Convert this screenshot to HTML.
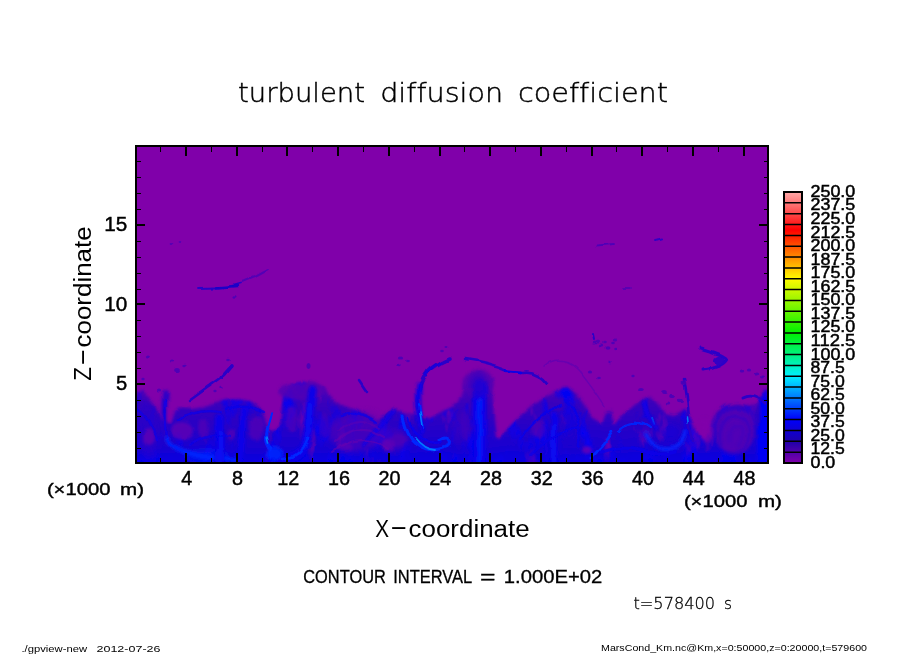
<!DOCTYPE html>
<html lang="en"><head><meta charset="utf-8"><title>turbulent diffusion coefficient</title>
<style>html,body{margin:0;padding:0;background:#fff;}body{width:904px;height:654px;overflow:hidden;}svg{display:block;}text{font-family:"Liberation Sans",sans-serif;fill:#000;}.thin{font-family:"DejaVu Sans Light","Liberation Sans",sans-serif;}</style></head><body>
<svg width="904" height="654" viewBox="0 0 904 654">
<defs>
<linearGradient id="cb" x1="0" y1="1" x2="0" y2="0">
<stop offset="0" stop-color="rgb(128,0,170)"/>
<stop offset="0.08" stop-color="rgb(30,0,170)"/>
<stop offset="0.16" stop-color="rgb(0,0,250)"/>
<stop offset="0.32" stop-color="rgb(0,240,255)"/>
<stop offset="0.48" stop-color="rgb(0,240,0)"/>
<stop offset="0.68" stop-color="rgb(255,250,0)"/>
<stop offset="0.86" stop-color="rgb(255,0,0)"/>
<stop offset="1" stop-color="rgb(255,170,170)"/>
</linearGradient>
<clipPath id="fc"><rect x="137" y="147" width="630" height="315"/></clipPath>
<filter id="b1" filterUnits="userSpaceOnUse" x="120" y="130" width="670" height="350"><feGaussianBlur stdDeviation="0.7"/></filter>
<filter id="b2" filterUnits="userSpaceOnUse" x="120" y="130" width="670" height="350"><feGaussianBlur stdDeviation="1.6"/></filter>
<filter id="b3" filterUnits="userSpaceOnUse" x="120" y="130" width="670" height="350"><feGaussianBlur stdDeviation="3"/></filter>
<filter id="b4" filterUnits="userSpaceOnUse" x="120" y="130" width="670" height="350"><feGaussianBlur stdDeviation="5"/></filter>
<filter id="tex" x="0" y="0" width="100%" height="100%" color-interpolation-filters="sRGB"><feGaussianBlur in="SourceGraphic" stdDeviation="1.6" result="base"/><feTurbulence type="fractalNoise" baseFrequency="0.05 0.022" numOctaves="4" seed="7" result="n"/><feColorMatrix in="n" type="matrix" values="0 0 0 0 0.02  0 0 0 0 0  0 0 0 0 0.95  4 0 0 0 -2.0" result="w1"/><feColorMatrix in="n" type="matrix" values="0 0 0 0 0.42  0 0 0 0 0  0 0 0 0 0.70  0 -4.5 0 0 1.75" result="w2"/><feComposite in="w2" in2="base" operator="in" result="w2c"/><feComposite in="w1" in2="base" operator="in" result="w1c"/><feMerge><feMergeNode in="base"/><feMergeNode in="w2c"/><feMergeNode in="w1c"/></feMerge></filter>
<filter id="warp" x="-5%" y="-5%" width="110%" height="110%"><feTurbulence type="fractalNoise" baseFrequency="0.03 0.03" numOctaves="3" seed="11" result="t"/><feDisplacementMap in="SourceGraphic" in2="t" scale="7" xChannelSelector="R" yChannelSelector="G"/></filter>
<linearGradient id="hz" gradientUnits="userSpaceOnUse" x1="0" y1="380" x2="0" y2="462"><stop offset="0" stop-color="#5400b4"/><stop offset="0.3" stop-color="#3800bc"/><stop offset="0.65" stop-color="#2200ca"/><stop offset="1" stop-color="#1200d6"/></linearGradient>
</defs>
<rect width="904" height="654" fill="#fff"/>
<g id="field">
<rect x="136" y="146" width="632" height="317" fill="#8000aa"/>
<g clip-path="url(#fc)"><g filter="url(#warp)">
<polygon filter="url(#tex)" fill="url(#hz)" points="130,392 137,392 142,389 150,397 157,408 162,420 172,424 176,412 180,408 190,409 200,408 210,405 220,402 230,400 240,400 250,402 258,407 263,416 266,426 270,432 276,432 281,426 283,408 285,395 288,388 295,383 305,381 315,382 325,388 331,398 340,404 350,408 360,412 370,416 376,420 385,415 395,408 405,412 415,412 420,415 430,418 440,412 450,408 458,402 463,388 470,377 478,371 486,376 491,384 493,398 494,418 496,438 500,440 507,429 520,416 531,406 545,399 558,393 566,388 577,395 584,405 591,416 599,421 602,422 606,411 611,410 616,424 624,415 636,405 644,399 650,396 657,403 665,414 675,416 685,410 691,420 697,434 705,440 712,425 718,412 727,406 737,404 747,406 755,404 760,398 767,390 775,390 775,470 130,470"/>
<rect x="130" y="453" width="645" height="14" fill="#0600e8" filter="url(#b3)" opacity="0.4"/>
<ellipse cx="303" cy="391" rx="24" ry="9" fill="#5200b4" filter="url(#b2)" opacity="0.85"/>
<ellipse cx="478" cy="384" rx="16" ry="13" fill="#5200b4" filter="url(#b2)" opacity="0.8"/>
<ellipse cx="148" cy="430" rx="10" ry="30" fill="#2a00c8" filter="url(#b3)" opacity="0.8"/>
<ellipse cx="148" cy="438" rx="6" ry="8" fill="#6a00b0" filter="url(#b2)" opacity="0.7"/>
<path d="M166,393 C164,410 165,430 167,442" fill="none" stroke="#2a00c8" stroke-width="5.5" stroke-linecap="round" stroke-linejoin="round" filter="url(#b2)" opacity="1"/>
<path d="M166,400 C165,415 166,432 168,444" fill="none" stroke="#0a00e8" stroke-width="2.2" stroke-linecap="round" stroke-linejoin="round" filter="url(#b1)" opacity="0.8"/>
<path d="M166,438 C172,450 185,452 200,456 C215,459 225,460 235,460" fill="none" stroke="#0028ff" stroke-width="4" stroke-linecap="round" stroke-linejoin="round" filter="url(#b2)" opacity="1"/>
<path d="M189,401 L200,393 L214,383 L225,375 L232,366" fill="none" stroke="#2a00c8" stroke-width="2.6" stroke-linecap="round" stroke-linejoin="round" filter="url(#b1)" opacity="1"/>
<path d="M222,377 L232,366" fill="none" stroke="#2a00c8" stroke-width="3.6" stroke-linecap="round" stroke-linejoin="round" filter="url(#b1)" opacity="1"/>
<ellipse cx="205" cy="456" rx="22" ry="6" fill="#0028ff" filter="url(#b3)" opacity="0.6"/>
<path d="M218,418 L219,462" fill="none" stroke="#0a00e8" stroke-width="8" stroke-linecap="round" stroke-linejoin="round" filter="url(#b2)" opacity="1"/>
<path d="M219,430 L219,462" fill="none" stroke="#0028ff" stroke-width="3" stroke-linecap="round" stroke-linejoin="round" filter="url(#b2)" opacity="0.7"/>
<path d="M243,410 C244,430 243,445 240,458" fill="none" stroke="#0a00e8" stroke-width="7" stroke-linecap="round" stroke-linejoin="round" filter="url(#b2)" opacity="1"/>
<ellipse cx="203" cy="428" rx="5" ry="10" fill="#6000b0" filter="url(#b2)" opacity="0.6"/>
<ellipse cx="231" cy="434" rx="5" ry="6" fill="#6000b0" filter="url(#b2)" opacity="0.6"/>
<ellipse cx="257" cy="428" rx="7" ry="12" fill="#6000b0" filter="url(#b2)" opacity="0.6"/>
<ellipse cx="183" cy="431" rx="11" ry="9" fill="#6a00b0" filter="url(#b2)" opacity="0.7"/>
<ellipse cx="178" cy="369" rx="2.8" ry="2" fill="#4a00b8" filter="url(#b1)" opacity="0.9"/>
<ellipse cx="172" cy="360" rx="2.1" ry="1.5" fill="#4a00b8" filter="url(#b1)" opacity="0.9"/>
<ellipse cx="149" cy="356" rx="2.1" ry="1.5" fill="#4a00b8" filter="url(#b1)" opacity="0.9"/>
<ellipse cx="184" cy="364" rx="1.68" ry="1.2" fill="#4a00b8" filter="url(#b1)" opacity="0.9"/>
<ellipse cx="228" cy="361" rx="1.82" ry="1.3" fill="#4a00b8" filter="url(#b1)" opacity="0.9"/>
<ellipse cx="160" cy="390" rx="2.1" ry="1.5" fill="#4a00b8" filter="url(#b1)" opacity="0.9"/>
<ellipse cx="142" cy="378" rx="1.68" ry="1.2" fill="#4a00b8" filter="url(#b1)" opacity="0.9"/>
<ellipse cx="215" cy="392" rx="1.68" ry="1.2" fill="#4a00b8" filter="url(#b1)" opacity="0.9"/>
<ellipse cx="222" cy="388" rx="1.68" ry="1.2" fill="#4a00b8" filter="url(#b1)" opacity="0.9"/>
<ellipse cx="358" cy="432" rx="30" ry="20" fill="#5c00b2" filter="url(#b3)" opacity="0.55"/>
<ellipse cx="396" cy="440" rx="12" ry="12" fill="#5c00b2" filter="url(#b3)" opacity="0.45"/>
<path d="M313,390 C311,410 309,430 305,446 C300,455 292,458 283,460" fill="none" stroke="#0a00e8" stroke-width="9" stroke-linecap="round" stroke-linejoin="round" filter="url(#b2)" opacity="1"/>
<path d="M311,405 C310,420 308,435 304,447" fill="none" stroke="#0028ff" stroke-width="3" stroke-linecap="round" stroke-linejoin="round" filter="url(#b2)" opacity="0.6"/>
<path d="M308,436 C303,452 295,457 285,459" fill="none" stroke="#0028ff" stroke-width="2.5" stroke-linecap="round" stroke-linejoin="round" filter="url(#b1)" opacity="1"/>
<path d="M271.3,415 C268,425 266.5,432 266.6,438 C267,443 269,446 272,450" fill="none" stroke="#0028ff" stroke-width="3.2" stroke-linecap="round" stroke-linejoin="round" filter="url(#b1)" opacity="1"/>
<ellipse cx="276" cy="454" rx="9" ry="7" fill="#0028ff" filter="url(#b2)" opacity="0.85"/>
<path d="M267,437 L268.5,443" fill="none" stroke="#0078ff" stroke-width="1.6" stroke-linecap="round" stroke-linejoin="round" filter="url(#b1)" opacity="1"/>
<path d="M395,410 C385,420 375,432 364,446" fill="none" stroke="#0a00e8" stroke-width="3.5" stroke-linecap="round" stroke-linejoin="round" filter="url(#b2)" opacity="1"/>
<path d="M360,379 L364,385 L368,391" fill="none" stroke="#2a00c8" stroke-width="2.6" stroke-linecap="round" stroke-linejoin="round" filter="url(#b1)" opacity="1"/>
<ellipse cx="310" cy="366" rx="2.5" ry="3" fill="#4a00b8" filter="url(#b1)" opacity="0.9"/>
<ellipse cx="292" cy="420" rx="6" ry="13" fill="#6000b0" filter="url(#b2)" opacity="0.55"/>
<ellipse cx="324" cy="425" rx="5" ry="12" fill="#5000b4" filter="url(#b2)" opacity="0.5"/>
<path d="M335,442 C350,427 370,427 386,437" fill="none" stroke="#6800b0" stroke-width="2.2" stroke-linecap="round" stroke-linejoin="round" filter="url(#b1)" opacity="0.55"/>
<path d="M333,452 C350,438 372,438 390,449" fill="none" stroke="#6800b0" stroke-width="2.2" stroke-linecap="round" stroke-linejoin="round" filter="url(#b1)" opacity="0.55"/>
<path d="M338,431 C352,419 368,420 380,428" fill="none" stroke="#6000b2" stroke-width="2" stroke-linecap="round" stroke-linejoin="round" filter="url(#b1)" opacity="0.5"/>
<ellipse cx="389" cy="445" rx="6" ry="6" fill="#7000ae" filter="url(#b2)" opacity="0.7"/>
<ellipse cx="345" cy="448" rx="8" ry="4" fill="#7000ae" filter="url(#b2)" opacity="0.5"/>
<path d="M449,358 C440,362 433,366 427,372 C420,381 417,390 417,400 C418,410 420,418 422,426" fill="none" stroke="#2a00c8" stroke-width="3.6" stroke-linecap="round" stroke-linejoin="round" filter="url(#b1)" opacity="1"/>
<path d="M440,362 C433,366 428,371 424,377" fill="none" stroke="#0a00e8" stroke-width="2" stroke-linecap="round" stroke-linejoin="round" filter="url(#b1)" opacity="0.8"/>
<path d="M418,386 C417,398 418,410 420,420 L422,430" fill="none" stroke="#0a00e8" stroke-width="5" stroke-linecap="round" stroke-linejoin="round" filter="url(#b2)" opacity="1"/>
<path d="M419,402 L421,415 L423,427" fill="none" stroke="#0028ff" stroke-width="2" stroke-linecap="round" stroke-linejoin="round" filter="url(#b1)" opacity="1"/>
<path d="M403,414 C405,430 410,440 418,445 C428,453 440,452 450,446 C452,440 446,437 440,441" fill="none" stroke="#0028ff" stroke-width="3" stroke-linecap="round" stroke-linejoin="round" filter="url(#b1)" opacity="1"/>
<path d="M409,416 C411,428 417,437 426,441 C432,444 438,444 442,443" fill="none" stroke="#0a00e8" stroke-width="2.5" stroke-linecap="round" stroke-linejoin="round" filter="url(#b1)" opacity="1"/>
<path d="M415,438 C422,447 430,451 436,451" fill="none" stroke="#0078ff" stroke-width="1.8" stroke-linecap="round" stroke-linejoin="round" filter="url(#b1)" opacity="1"/>
<path d="M420,410 L422,424" fill="none" stroke="#0078ff" stroke-width="1.5" stroke-linecap="round" stroke-linejoin="round" filter="url(#b1)" opacity="1"/>
<path d="M480,388 L479,465" fill="none" stroke="#0a00e8" stroke-width="13" stroke-linecap="round" stroke-linejoin="round" filter="url(#b2)" opacity="1"/>
<path d="M480,400 L479,465" fill="none" stroke="#0028ff" stroke-width="5" stroke-linecap="round" stroke-linejoin="round" filter="url(#b2)" opacity="0.75"/>
<path d="M465,360 C480,362 495,366 507,371 L524,372 C535,370 545,378 549,384" fill="none" stroke="#2a00c8" stroke-width="2.6" stroke-linecap="round" stroke-linejoin="round" filter="url(#b1)" opacity="1"/>
<path d="M506,370.5 L522,372" fill="none" stroke="#0a00e8" stroke-width="2.4" stroke-linecap="round" stroke-linejoin="round" filter="url(#b1)" opacity="1"/>
<ellipse cx="478" cy="386" rx="9" ry="12" fill="#2a00c8" filter="url(#b3)" opacity="0.7"/>
<ellipse cx="402" cy="358" rx="2.1" ry="1.5" fill="#4a00b8" filter="url(#b1)" opacity="0.9"/>
<ellipse cx="408" cy="362" rx="1.82" ry="1.3" fill="#4a00b8" filter="url(#b1)" opacity="0.9"/>
<ellipse cx="399" cy="365" rx="1.68" ry="1.2" fill="#4a00b8" filter="url(#b1)" opacity="0.9"/>
<ellipse cx="442" cy="350" rx="1.82" ry="1.3" fill="#4a00b8" filter="url(#b1)" opacity="0.9"/>
<ellipse cx="446" cy="346" rx="1.54" ry="1.1" fill="#4a00b8" filter="url(#b1)" opacity="0.9"/>
<ellipse cx="398" cy="440" rx="8" ry="6" fill="#5a00b2" filter="url(#b2)" opacity="0.5"/>
<ellipse cx="460" cy="430" rx="8" ry="14" fill="#4000bc" filter="url(#b3)" opacity="0.5"/>
<path d="M553,415 C553,435 554,450 555,462" fill="none" stroke="#0a00e8" stroke-width="7" stroke-linecap="round" stroke-linejoin="round" filter="url(#b2)" opacity="1"/>
<path d="M553,425 C553,440 554,452 555,462" fill="none" stroke="#0028ff" stroke-width="2.5" stroke-linecap="round" stroke-linejoin="round" filter="url(#b2)" opacity="0.6"/>
<path d="M545,425 C546,440 547,452 548,462" fill="none" stroke="#0a00e8" stroke-width="3" stroke-linecap="round" stroke-linejoin="round" filter="url(#b2)" opacity="0.8"/>
<path d="M590,458 C598,450 606,440 612,430" fill="none" stroke="#0028ff" stroke-width="2.6" stroke-linecap="round" stroke-linejoin="round" filter="url(#b1)" opacity="1"/>
<path d="M652,419 L654,425" fill="none" stroke="#0078ff" stroke-width="2" stroke-linecap="round" stroke-linejoin="round" filter="url(#b1)" opacity="1"/>
<path d="M644,404 C646,412 650,420 655,428" fill="none" stroke="#0a00e8" stroke-width="4" stroke-linecap="round" stroke-linejoin="round" filter="url(#b2)" opacity="1"/>
<ellipse cx="595" cy="343" rx="2.24" ry="1.6" fill="#4a00b8" filter="url(#b1)" opacity="0.9"/>
<ellipse cx="601" cy="346" rx="2.24" ry="1.6" fill="#4a00b8" filter="url(#b1)" opacity="0.9"/>
<ellipse cx="607" cy="349" rx="2.52" ry="1.8" fill="#4a00b8" filter="url(#b1)" opacity="0.9"/>
<ellipse cx="612" cy="344" rx="1.82" ry="1.3" fill="#4a00b8" filter="url(#b1)" opacity="0.9"/>
<ellipse cx="616" cy="350" rx="1.82" ry="1.3" fill="#4a00b8" filter="url(#b1)" opacity="0.9"/>
<ellipse cx="590" cy="372" rx="2.1" ry="1.5" fill="#4a00b8" filter="url(#b1)" opacity="0.9"/>
<ellipse cx="598" cy="379" rx="1.82" ry="1.3" fill="#4a00b8" filter="url(#b1)" opacity="0.9"/>
<ellipse cx="610" cy="362" rx="1.68" ry="1.2" fill="#4a00b8" filter="url(#b1)" opacity="0.9"/>
<ellipse cx="640" cy="388" rx="2.8" ry="2" fill="#4a00b8" filter="url(#b1)" opacity="0.9"/>
<ellipse cx="632" cy="375" rx="1.68" ry="1.2" fill="#4a00b8" filter="url(#b1)" opacity="0.9"/>
<ellipse cx="538" cy="429" rx="7" ry="9" fill="#6000b0" filter="url(#b2)" opacity="0.55"/>
<ellipse cx="586" cy="450" rx="5" ry="4" fill="#7800ac" filter="url(#b2)" opacity="0.7"/>
<path d="M545,366 C555,358 570,360 580,372 C590,385 598,395 604,406" fill="none" stroke="#4a00b8" stroke-width="1.5" stroke-linecap="round" stroke-linejoin="round" filter="url(#b1)" opacity="0.45"/>
<ellipse cx="570" cy="425" rx="8" ry="16" fill="#1a00d0" filter="url(#b3)" opacity="0.6"/>
<path d="M684,380 C688,395 688,410 689,422 C690,430 692,436 693,441" fill="none" stroke="#2a00c8" stroke-width="2.6" stroke-linecap="round" stroke-linejoin="round" filter="url(#b1)" opacity="1"/>
<path d="M688.5,419 L689,424" fill="none" stroke="#0078ff" stroke-width="1.5" stroke-linecap="round" stroke-linejoin="round" filter="url(#b1)" opacity="1"/>
<path d="M702,348 C712,351 722,354 727,358 C724,364 714,368 703,369" fill="none" stroke="#2a00c8" stroke-width="3" stroke-linecap="round" stroke-linejoin="round" filter="url(#b1)" opacity="1"/>
<ellipse cx="720" cy="360" rx="5" ry="4" fill="#2a00c8" filter="url(#b1)" opacity="0.9"/>
<ellipse cx="735" cy="430" rx="20" ry="24" fill="#5400b4" filter="url(#b2)" opacity="0.95"/>
<path d="M716,440 C714,420 722,408 736,407 C750,407 757,420 755,436" fill="none" stroke="#2a00c8" stroke-width="3.2" stroke-linecap="round" stroke-linejoin="round" filter="url(#b2)" opacity="0.8"/>
<path d="M722,446 C718,428 726,416 737,415 C747,416 751,428 748,442 C744,452 734,456 724,452" fill="none" stroke="#2400cc" stroke-width="2.4" stroke-linecap="round" stroke-linejoin="round" filter="url(#b2)" opacity="0.6"/>
<path d="M730,440 C729,430 734,424 740,426 C744,430 743,440 738,446" fill="none" stroke="#3000c6" stroke-width="2" stroke-linecap="round" stroke-linejoin="round" filter="url(#b2)" opacity="0.5"/>
<rect x="758" y="398" width="12" height="70" fill="#0400f4" filter="url(#b2)"/>
<path d="M742,397 C750,393 758,396 764,403" fill="none" stroke="#2a00c8" stroke-width="3" stroke-linecap="round" stroke-linejoin="round" filter="url(#b1)" opacity="1"/>
<path d="M645,434 C650,446 661,453 677,447 C683,443 685,438 686,432" fill="none" stroke="#0028ff" stroke-width="3.4" stroke-linecap="round" stroke-linejoin="round" filter="url(#b2)" opacity="1"/>
<ellipse cx="665" cy="392" rx="2.8" ry="2" fill="#4a00b8" filter="url(#b1)" opacity="0.9"/>
<ellipse cx="672" cy="397" rx="2.8" ry="2" fill="#4a00b8" filter="url(#b1)" opacity="0.9"/>
<ellipse cx="680" cy="401" rx="3.08" ry="2.2" fill="#4a00b8" filter="url(#b1)" opacity="0.9"/>
<ellipse cx="668" cy="404" rx="2.24" ry="1.6" fill="#4a00b8" filter="url(#b1)" opacity="0.9"/>
<ellipse cx="742" cy="372" rx="2.24" ry="1.6" fill="#4a00b8" filter="url(#b1)" opacity="0.9"/>
<ellipse cx="750" cy="370" rx="2.1" ry="1.5" fill="#4a00b8" filter="url(#b1)" opacity="0.9"/>
<ellipse cx="757" cy="374" rx="2.24" ry="1.6" fill="#4a00b8" filter="url(#b1)" opacity="0.9"/>
<ellipse cx="763" cy="377" rx="1.96" ry="1.4" fill="#4a00b8" filter="url(#b1)" opacity="0.9"/>
<ellipse cx="684" cy="383" rx="2.52" ry="1.8" fill="#4a00b8" filter="url(#b1)" opacity="0.9"/>
<ellipse cx="706" cy="430" rx="6" ry="12" fill="#8000aa" filter="url(#b2)" opacity="0.55"/>
<ellipse cx="670" cy="432" rx="10" ry="8" fill="#1400d8" filter="url(#b3)" opacity="0.6"/>
<ellipse cx="466" cy="425" rx="4" ry="16" fill="#4a00b8" filter="url(#b2)" opacity="0.6"/>
<path d="M520,440 C530,425 545,412 560,405" fill="none" stroke="#0a00e8" stroke-width="2.4" stroke-linecap="round" stroke-linejoin="round" filter="url(#b1)" opacity="0.9"/>
<path d="M530,455 C545,440 560,430 580,428" fill="none" stroke="#0a00e8" stroke-width="2.2" stroke-linecap="round" stroke-linejoin="round" filter="url(#b1)" opacity="0.8"/>
<path d="M565,400 C575,410 580,425 578,445" fill="none" stroke="#0a00e8" stroke-width="2.5" stroke-linecap="round" stroke-linejoin="round" filter="url(#b1)" opacity="0.8"/>
<path d="M600,452 C615,447 630,447 645,452 C655,455 665,455 675,452" fill="none" stroke="#0a00e8" stroke-width="3" stroke-linecap="round" stroke-linejoin="round" filter="url(#b1)" opacity="0.9"/>
<path d="M620,430 C628,422 640,420 650,428" fill="none" stroke="#0028ff" stroke-width="2.2" stroke-linecap="round" stroke-linejoin="round" filter="url(#b1)" opacity="0.9"/>
<path d="M180,420 C190,412 205,410 220,412" fill="none" stroke="#0a00e8" stroke-width="2.2" stroke-linecap="round" stroke-linejoin="round" filter="url(#b1)" opacity="0.8"/>
<path d="M190,445 C200,436 215,432 230,436" fill="none" stroke="#0a00e8" stroke-width="2.2" stroke-linecap="round" stroke-linejoin="round" filter="url(#b1)" opacity="0.7"/>
<path d="M225,410 C235,405 250,406 262,412" fill="none" stroke="#0a00e8" stroke-width="2.4" stroke-linecap="round" stroke-linejoin="round" filter="url(#b1)" opacity="0.8"/>
<path d="M340,415 C350,410 365,414 375,422" fill="none" stroke="#0a00e8" stroke-width="2.2" stroke-linecap="round" stroke-linejoin="round" filter="url(#b1)" opacity="0.8"/>
<path d="M137,410 C145,415 152,425 156,440" fill="none" stroke="#0a00e8" stroke-width="2.5" stroke-linecap="round" stroke-linejoin="round" filter="url(#b1)" opacity="0.7"/>
<path d="M197,288 L215,287.5 L228,287 L241,283.5" fill="none" stroke="#2a00c8" stroke-width="1.8" stroke-linecap="round" stroke-linejoin="round" filter="url(#b1)" opacity="1"/>
<path d="M216,287.5 L238,286" fill="none" stroke="#1a00c8" stroke-width="2.4" stroke-linecap="round" stroke-linejoin="round" filter="url(#b1)" opacity="1"/>
<path d="M243,282 L255,277 L268,270" fill="none" stroke="#4a00b8" stroke-width="2" stroke-linecap="round" stroke-linejoin="round" filter="url(#b1)" opacity="0.8"/>
<ellipse cx="234" cy="297.5" rx="1.5" ry="1.2" fill="#4a00b8" filter="url(#b1)" opacity="0.9"/>
<path d="M597,245.5 L615,244" fill="none" stroke="#4a00b8" stroke-width="1.8" stroke-linecap="round" stroke-linejoin="round" filter="url(#b1)" opacity="0.9"/>
<path d="M655,241 L662,239.5" fill="none" stroke="#2a00c8" stroke-width="2" stroke-linecap="round" stroke-linejoin="round" filter="url(#b1)" opacity="0.9"/>
<path d="M623,288 L629,288" fill="none" stroke="#4a00b8" stroke-width="1.6" stroke-linecap="round" stroke-linejoin="round" filter="url(#b1)" opacity="0.9"/>
<path d="M593,335 L594,340" fill="none" stroke="#2a00c8" stroke-width="2" stroke-linecap="round" stroke-linejoin="round" filter="url(#b1)" opacity="1"/>
<ellipse cx="598" cy="342" rx="2.1" ry="1.5" fill="#4a00b8" filter="url(#b1)" opacity="0.8"/>
<ellipse cx="604" cy="343" rx="1.82" ry="1.3" fill="#4a00b8" filter="url(#b1)" opacity="0.8"/>
<ellipse cx="614" cy="341" rx="2.24" ry="1.6" fill="#4a00b8" filter="url(#b1)" opacity="0.8"/>
<ellipse cx="171" cy="244" rx="1.4" ry="1" fill="#4a00b8" filter="url(#b1)" opacity="0.8"/>
<ellipse cx="179" cy="242" rx="1.4" ry="1" fill="#4a00b8" filter="url(#b1)" opacity="0.8"/>
</g></g>
</g>
<rect x="136" y="146" width="632" height="317" fill="none" stroke="#000" stroke-width="2"/>
<path d="M160 147h1v5h-1zM160 462h1v-4h-1zM185 147h2v9h-2zM185 462h2v-9h-2zM211 147h1v5h-1zM211 462h1v-4h-1zM236 147h2v9h-2zM236 462h2v-9h-2zM262 147h1v5h-1zM262 462h1v-4h-1zM286 147h2v9h-2zM286 462h2v-9h-2zM312 147h1v5h-1zM312 462h1v-4h-1zM337 147h2v9h-2zM337 462h2v-9h-2zM363 147h1v5h-1zM363 462h1v-4h-1zM388 147h2v9h-2zM388 462h2v-9h-2zM414 147h1v5h-1zM414 462h1v-4h-1zM439 147h2v9h-2zM439 462h2v-9h-2zM464 147h1v5h-1zM464 462h1v-4h-1zM489 147h2v9h-2zM489 462h2v-9h-2zM515 147h1v5h-1zM515 462h1v-4h-1zM540 147h2v9h-2zM540 462h2v-9h-2zM566 147h1v5h-1zM566 462h1v-4h-1zM591 147h2v9h-2zM591 462h2v-9h-2zM616 147h1v5h-1zM616 462h1v-4h-1zM641 147h2v9h-2zM641 462h2v-9h-2zM667 147h1v5h-1zM667 462h1v-4h-1zM692 147h2v9h-2zM692 462h2v-9h-2zM718 147h1v5h-1zM718 462h1v-4h-1zM743 147h2v9h-2zM743 462h2v-9h-2zM137 448h4v1h-4zM767 448h-3v1h3zM137 432h4v1h-4zM767 432h-3v1h3zM137 416h4v1h-4zM767 416h-3v1h3zM137 400h4v1h-4zM767 400h-3v1h3zM137 383h8v2h-8zM767 383h-8v2h8zM137 368h4v1h-4zM767 368h-3v1h3zM137 352h4v1h-4zM767 352h-3v1h3zM137 336h4v1h-4zM767 336h-3v1h3zM137 320h4v1h-4zM767 320h-3v1h3zM137 303h8v2h-8zM767 303h-8v2h8zM137 289h4v1h-4zM767 289h-3v1h3zM137 273h4v1h-4zM767 273h-3v1h3zM137 257h4v1h-4zM767 257h-3v1h3zM137 241h4v1h-4zM767 241h-3v1h3zM137 224h8v2h-8zM767 224h-8v2h8zM137 209h4v1h-4zM767 209h-3v1h3zM137 193h4v1h-4zM767 193h-3v1h3zM137 177h4v1h-4zM767 177h-3v1h3zM137 161h4v1h-4zM767 161h-3v1h3z" fill="#000"/>
<rect x="784" y="192" width="18" height="271" fill="url(#cb)" stroke="#000" stroke-width="2"/>
<path d="M785 452.2h16M785 441.3h16M785 430.5h16M785 419.6h16M785 408.8h16M785 398.0h16M785 387.1h16M785 376.3h16M785 365.4h16M785 354.6h16M785 343.8h16M785 332.9h16M785 322.1h16M785 311.2h16M785 300.4h16M785 289.6h16M785 278.7h16M785 267.9h16M785 257.0h16M785 246.2h16M785 235.4h16M785 224.5h16M785 213.7h16M785 202.8h16" stroke="#000" stroke-width="1.5" fill="none"/>
<g font-size="17" stroke="#000" stroke-width="0.5">
<text x="810.5" y="196.8" textLength="44.8" lengthAdjust="spacingAndGlyphs">250.0</text>
<text x="810.5" y="210.4" textLength="44.8" lengthAdjust="spacingAndGlyphs">237.5</text>
<text x="810.5" y="223.9" textLength="44.8" lengthAdjust="spacingAndGlyphs">225.0</text>
<text x="810.5" y="237.5" textLength="44.8" lengthAdjust="spacingAndGlyphs">212.5</text>
<text x="810.5" y="251.0" textLength="44.8" lengthAdjust="spacingAndGlyphs">200.0</text>
<text x="810.5" y="264.6" textLength="44.8" lengthAdjust="spacingAndGlyphs">187.5</text>
<text x="810.5" y="278.1" textLength="44.8" lengthAdjust="spacingAndGlyphs">175.0</text>
<text x="810.5" y="291.7" textLength="44.8" lengthAdjust="spacingAndGlyphs">162.5</text>
<text x="810.5" y="305.2" textLength="44.8" lengthAdjust="spacingAndGlyphs">150.0</text>
<text x="810.5" y="318.8" textLength="44.8" lengthAdjust="spacingAndGlyphs">137.5</text>
<text x="810.5" y="332.4" textLength="44.8" lengthAdjust="spacingAndGlyphs">125.0</text>
<text x="810.5" y="345.9" textLength="44.8" lengthAdjust="spacingAndGlyphs">112.5</text>
<text x="810.5" y="359.5" textLength="44.8" lengthAdjust="spacingAndGlyphs">100.0</text>
<text x="810.5" y="373.0" textLength="34.3" lengthAdjust="spacingAndGlyphs">87.5</text>
<text x="810.5" y="386.6" textLength="34.3" lengthAdjust="spacingAndGlyphs">75.0</text>
<text x="810.5" y="400.1" textLength="34.3" lengthAdjust="spacingAndGlyphs">62.5</text>
<text x="810.5" y="413.7" textLength="34.3" lengthAdjust="spacingAndGlyphs">50.0</text>
<text x="810.5" y="427.2" textLength="34.3" lengthAdjust="spacingAndGlyphs">37.5</text>
<text x="810.5" y="440.8" textLength="34.3" lengthAdjust="spacingAndGlyphs">25.0</text>
<text x="810.5" y="454.3" textLength="34.3" lengthAdjust="spacingAndGlyphs">12.5</text>
<text x="810.5" y="467.9" textLength="24.8" lengthAdjust="spacingAndGlyphs">0.0</text>
</g>
<g font-size="20" text-anchor="middle" stroke="#000" stroke-width="0.45">
<text x="186.8" y="485.3" textLength="11.0" lengthAdjust="spacingAndGlyphs">4</text>
<text x="237.5" y="485.3" textLength="11.0" lengthAdjust="spacingAndGlyphs">8</text>
<text x="288.2" y="485.3" textLength="22.0" lengthAdjust="spacingAndGlyphs">12</text>
<text x="338.9" y="485.3" textLength="22.0" lengthAdjust="spacingAndGlyphs">16</text>
<text x="389.6" y="485.3" textLength="22.0" lengthAdjust="spacingAndGlyphs">20</text>
<text x="440.3" y="485.3" textLength="22.0" lengthAdjust="spacingAndGlyphs">24</text>
<text x="491.0" y="485.3" textLength="22.0" lengthAdjust="spacingAndGlyphs">28</text>
<text x="541.7" y="485.3" textLength="22.0" lengthAdjust="spacingAndGlyphs">32</text>
<text x="592.4" y="485.3" textLength="22.0" lengthAdjust="spacingAndGlyphs">36</text>
<text x="643.1" y="485.3" textLength="22.0" lengthAdjust="spacingAndGlyphs">40</text>
<text x="693.8" y="485.3" textLength="22.0" lengthAdjust="spacingAndGlyphs">44</text>
<text x="744.5" y="485.3" textLength="22.0" lengthAdjust="spacingAndGlyphs">48</text>
</g>
<g font-size="20" text-anchor="end" stroke="#000" stroke-width="0.45">
<text x="127.3" y="390.1" textLength="11.2" lengthAdjust="spacingAndGlyphs">5</text>
<text x="127.3" y="310.6" textLength="23.0" lengthAdjust="spacingAndGlyphs">10</text>
<text x="127.3" y="231.1" textLength="23.0" lengthAdjust="spacingAndGlyphs">15</text>
</g>
<g font-size="17" stroke="#000" stroke-width="0.4">
<text x="46.9" y="495.3" textLength="63.5" lengthAdjust="spacingAndGlyphs">(×1000</text><text x="120" y="495.3" textLength="24" lengthAdjust="spacingAndGlyphs">m)</text>
<text x="683.9" y="507.2" textLength="63.5" lengthAdjust="spacingAndGlyphs">(×1000</text><text x="757.9" y="507.2" textLength="24" lengthAdjust="spacingAndGlyphs">m)</text>
</g>
<g class="thin" font-size="27.3" stroke="#000" stroke-width="0.45" style="font-variant-ligatures:none;font-feature-settings:'liga' 0">
<text class="thin" x="238" y="102.3" textLength="127" lengthAdjust="spacingAndGlyphs">turbulent</text>
<text class="thin" x="380.2" y="102.3" textLength="123" lengthAdjust="spacingAndGlyphs">diffusion</text>
<text class="thin" x="518" y="102.3" textLength="150" lengthAdjust="spacingAndGlyphs">coefficient</text>
</g>
<text y="536.5" font-size="23"><tspan x="375.3" textLength="13.8" lengthAdjust="spacingAndGlyphs">X</tspan><tspan x="389.8" dy="-2.3" textLength="18" lengthAdjust="spacingAndGlyphs">-</tspan><tspan x="408.6" dy="2.3" textLength="121" lengthAdjust="spacingAndGlyphs">coordinate</tspan></text>
<text transform="translate(91 381) rotate(-90)" y="0" font-size="23"><tspan x="0.3" textLength="13.8" lengthAdjust="spacingAndGlyphs">Z</tspan><tspan x="14.8" dy="-2.3" textLength="18" lengthAdjust="spacingAndGlyphs">-</tspan><tspan x="33.6" dy="2.3" textLength="121" lengthAdjust="spacingAndGlyphs">coordinate</tspan></text>
<g font-size="18.3" stroke="#000" stroke-width="0.3">
<text x="303.3" y="582.8" textLength="82.5" lengthAdjust="spacingAndGlyphs">CONTOUR</text>
<text x="393.2" y="582.8" textLength="79" lengthAdjust="spacingAndGlyphs">INTERVAL</text>
<text x="480" y="582.8" textLength="15.5" lengthAdjust="spacingAndGlyphs">=</text>
<text x="503.8" y="582.8" textLength="98.5" lengthAdjust="spacingAndGlyphs">1.000E+02</text>
</g>
<text class="thin" stroke="#000" stroke-width="0.3" x="633.5" y="609" font-size="16.5" textLength="81.5" lengthAdjust="spacingAndGlyphs">t=578400</text>
<text class="thin" stroke="#000" stroke-width="0.3" x="724" y="609" font-size="16.5" textLength="8" lengthAdjust="spacingAndGlyphs">s</text>
<g font-size="9.5">
<text x="21.5" y="652" textLength="65.5" lengthAdjust="spacingAndGlyphs">./gpview-new</text>
<text x="96.5" y="652" textLength="64" lengthAdjust="spacingAndGlyphs">2012-07-26</text>
<text x="601" y="651" textLength="266" lengthAdjust="spacingAndGlyphs">MarsCond_Km.nc@Km,x=0:50000,z=0:20000,t=579600</text>
</g>
</svg></body></html>
